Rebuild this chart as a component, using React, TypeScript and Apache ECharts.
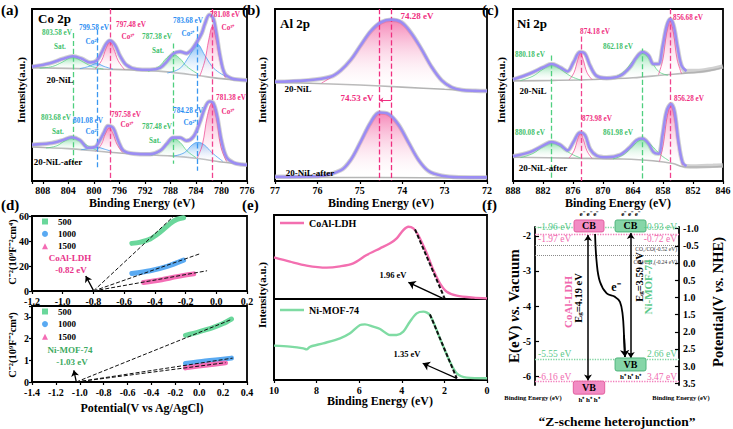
import React, { useEffect, useRef } from "react";
import * as echarts from "echarts";

const FONT = '"Liberation Serif", "Times New Roman", serif';
const PURPLE = "#9b8df3";
const RAW = "#c6c6c6";
const BGLINE = "#b3b3b3";

// ---------------- (a) Co 2p  (intensity on a 0-100 scale) ----------------
const aUpperRaw = [[809.7,66.4],[806.9,68.4],[804.8,71.1],[803.3,72.5],[801.9,71.1],[800.6,68.9],[799.6,69.9],[798.8,74.6],[798.1,79.7],[797.5,81.6],[796.7,79.1],[795.9,72.7],[794.9,67.4],[793.3,65.0],[791.2,64.7],[789.6,65.8],[788.6,69.3],[787.6,73.8],[786.5,75.2],[785.5,74.2],[784.7,76.2],[783.9,80.5],[783.1,85.9],[782.6,91.4],[781.9,96.7],[781.3,94.7],[780.8,85.9],[780.2,72.3],[779.5,62.5],[778.4,59.6],[777.1,58.9],[776,58.6]];
const aUpperBg = [[809.7,65.8],[804,65.5],[798,65.0],[792,64.3],[788,63.3],[784,61.5],[780,59.5],[776,58.4]];
const aUpperSat1 = [[808.5,65.6],[806.5,66.6],[805,69],[803.3,72],[801.6,69],[800.2,66.4],[798.5,65.1]];
const aUpperCo2a = [[802.2,65.3],[800.8,66.6],[799.6,68.3],[798.4,66.6],[797,65.0]];
const aUpperCo3a = [[799.8,65.1],[798.8,70],[798.1,77],[797.5,81],[796.9,77],[796.2,70],[795.2,64.8]];
const aUpperSat2 = [[791.5,63.8],[789.8,66.5],[788.6,71.5],[787.6,73.6],[786.6,71.5],[785.4,66.5],[783.8,62.5]];
const aUpperCo2b = [[788.5,62.8],[786.5,65.5],[785,73],[783.8,79.5],[782.6,73],[781.2,65.5],[779.2,60.5]];
const aUpperCo3b = [[783.4,61],[782.6,70],[782,82],[781.4,90],[780.8,82],[780.2,70],[779.4,60]];

const aLowerRaw = [[809.7,21.1],[806.9,21.9],[804.8,23.8],[803.5,25.4],[802.2,23.8],[800.9,19.3],[799.8,19.8],[799.1,23.4],[798.4,28.3],[797.8,32.0],[797.0,30.9],[796.2,23.4],[795.4,17.8],[793.8,15.9],[791.2,15.6],[789.6,17.6],[788.6,21.5],[787.6,25.2],[786.5,25.2],[785.5,23.4],[784.4,25.8],[783.4,34.0],[782.6,42.5],[781.9,46.2],[781.3,45.4],[780.7,38.0],[780.0,23.4],[779.2,13.7],[778.1,10.6],[776.8,9.6],[776,9.4]];
const aLowerBg = [[809.7,19.8],[804,18.8],[800,17.6],[796,16.3],[792,15.3],[788,14.6],[784,13.2],[780,11.0],[776,9.3]];
const aLowerSat1 = [[807.5,19.2],[805.8,20.5],[804.5,23.5],[803.4,25],[802.2,23.5],[801,20.5],[799.5,17.8]];
const aLowerCo2a = [[802,18.2],[800.8,18.9],[799.6,19.8],[798.4,18.6],[797.2,17.2]];
const aLowerCo3a = [[799.7,17.3],[798.8,21.5],[798.2,27.5],[797.6,31],[797,27.5],[796.4,21.5],[795.5,16.6]];
const aLowerSat2 = [[791,15.0],[789.5,17.5],[788.4,22.5],[787.5,24.6],[786.5,22.5],[785.4,17.5],[784,13.6]];
const aLowerCo2b = [[787.5,14.5],[785.8,16.5],[784.6,21],[783.7,22.5],[782.7,21],[781.5,16.5],[779.8,11.5]];
const aLowerCo3b = [[783.8,13.4],[783,21],[782.2,38],[781.5,45.2],[780.8,37],[780.1,20],[779.2,11.3]];

const aPeakKinds = ["sat", "co2", "co3", "sat", "co2", "co3"];
const aDashX = [803.3, 799.5, 797.5, 787.6, 783.8, 781.4];
const aDashTop = [86, 88, 100, 80, 90, 100];
const aDashBottom = [9, 8, 0, 10, 6, 0];

// ---------------- (b) Al 2p ----------------
const bUpperRaw = [[77,57.7],[76.25,58.5],[75.69,60.6],[75.45,64.3],[75.21,70.5],[74.98,78.8],[74.74,87.1],[74.5,92.3],[74.26,93.8],[74.02,92.3],[73.79,86.1],[73.55,76.8],[73.31,66.4],[73.07,58.5],[72.83,54.4],[72.6,52.9],[72.28,52.4],[72,52.3]];
const bUpperBg = [[77,57.3],[76,56.7],[75,55.8],[74,54.6],[73,53.3],[72,52.2]];
const bUpperPeak = [[75.9,57.0],[75.45,64],[75.21,70.3],[74.98,78.6],[74.74,86.9],[74.5,92.1],[74.26,93.6],[74.02,92.1],[73.79,85.9],[73.55,76.6],[73.31,66.2],[73.07,58.3],[72.85,54.3]];
const bLowerRaw = [[77,2.4],[76.0,2.8],[75.45,6.2],[75.21,12.4],[74.98,22.8],[74.74,34.2],[74.54,39.8],[74.33,39.0],[74.1,33.2],[73.86,22.8],[73.62,12.4],[73.38,5.8],[73.07,3.1],[72.67,2.2],[72,2.1]];
const bLowerBg = [[77,2.2],[74.5,2.0],[72,1.8]];
const bLowerPeak = [[76.0,2.3],[75.45,6.2],[75.21,12.4],[74.98,22.8],[74.74,34.2],[74.54,39.8],[74.33,39.0],[74.1,33.2],[73.86,22.8],[73.62,12.4],[73.38,5.8],[73.07,3.1],[72.67,2.2]];
const bDashX = [74.54, 74.26];
const bShift = [[74.26, 47], [74.54, 47]];

// ---------------- (c) Ni 2p ----------------
const cUpperRaw = [[888,59.0],[884.6,62.5],[881.9,66.1],[880.3,68.0],[878.6,66.1],[877.1,63.7],[875.9,69.0],[874.6,75.0],[873.6,74.0],[872.6,67.1],[871.3,61.1],[869.3,59.8],[866.6,61.1],[864.6,66.1],[863.3,71.9],[862.1,75.0],[860.9,73.0],[859.9,68.0],[858.9,68.0],[858.1,77.9],[857.3,89.7],[856.6,94.1],[855.9,90.7],[855.1,77.9],[854.3,67.1],[853.3,63.9],[851.3,63.9],[848,65.2],[846,66.6]];
const cUpperBg = [[888,58.2],[880,58.5],[872,59],[864,60],[858,61.6],[854,62.6],[851,63.3],[848,64.6],[846,66]];
const cUpperSat1 = [[886.5,58.4],[884,61],[882,65],[880.3,67.5],[878.5,65],[876.5,61],[874.5,58.7]];
const cUpperNi1 = [[876.8,58.7],[875.8,63],[875.1,70],[874.5,74.5],[873.9,70],[873.2,63],[872.2,59]];
const cUpperSat2 = [[868,59.8],[865.8,63.5],[863.8,70.5],[862.2,74.5],[860.6,70.5],[858.8,63.5],[857,61.5]];
const cUpperNi2 = [[858.9,61.8],[858,71],[857.3,86],[856.6,93.5],[855.9,86],[855.2,71],[854.3,62.5]];
const cLowerRaw = [[888,14.4],[884.6,16.8],[881.9,20.7],[880.3,22.7],[878.6,21.1],[877.1,17.8],[875.9,22.7],[874.6,28.2],[873.6,26.6],[872.6,18.7],[871.3,14.8],[869.3,13.8],[866.6,15.2],[864.6,19.7],[863.3,23.7],[862.1,24.7],[860.9,21.7],[859.9,16.8],[858.9,15.8],[858.1,26.6],[857.3,40.4],[856.4,44.8],[855.7,40.4],[854.9,22.7],[854.1,10.8],[853.3,8.6],[851.3,8.5],[848,8.8],[846,9.0]];
const cLowerBg = [[888,13.8],[876,13.3],[866,12.8],[860,11.8],[856,10.2],[854,8.3],[850,8.1],[846,8.6]];
const cLowerSat1 = [[886.5,13.6],[884,16],[882,20],[880.3,22.3],[878.5,20],[876.5,16],[874.5,13.4]];
const cLowerNi1 = [[876.8,13.3],[875.8,17.5],[875.1,24],[874.5,27.8],[873.9,24],[873.2,17.5],[872.2,13.2]];
const cLowerSat2 = [[868,12.8],[865.8,15.5],[863.8,21],[862.1,24.3],[860.4,21],[858.6,15.5],[856.8,11.8]];
const cLowerNi2 = [[858.7,11.4],[857.9,22],[857.2,37],[856.4,44.5],[855.7,37],[855,22],[854.1,9.2]];
const cPeakKinds = ["sat", "co3", "sat", "co3"];
const cDashX = [880.3, 874.4, 862.1, 856.6];
const cDashTop = [73, 84, 77, 100];
const cDashBottom = [1, 0, 0, 0];

// ---------------- (d) Mott-Schottky ----------------
const dTop500 = [[-0.55,38.1],[-0.5,38.9],[-0.43,41.6],[-0.365,47.1],[-0.3,54],[-0.256,57.3],[-0.213,58.6]];
const dTop1000 = [[-0.55,14],[-0.43,16.2],[-0.32,19.7],[-0.213,24.7]];
const dTop1500 = [[-0.474,6.8],[-0.365,8.8],[-0.256,11.5],[-0.147,13.7]];
const dTopFits = [[[-0.8,0],[-0.28,59.5]], [[-0.8,0],[-0.104,29.9]], [[-0.8,0],[-0.06,16.2]]];
const dTopArrow = [[-0.8, 0.5], [-0.85, 12]];
const dBot500 = [[-0.115,2.15],[-0.003,2.31],[0.108,2.49],[0.2,2.69],[0.27,2.9]];
const dBot1000 = [[-0.115,0.85],[0.05,0.97],[0.27,1.1]];
const dBot1500 = [[-0.115,0.65],[0.05,0.77],[0.22,0.88]];
const dBotFits = [[[-1.03,0],[0.27,2.88]], [[-1.03,0],[0.28,1.1]], [[-1.03,0],[0.22,0.89]]];
const dBotArrow = [[-1.03, 0.03], [-1.05, 0.54]];
const dLegendNames = ["500", "1000", "1500"];

// ---------------- (e) VB-XPS ----------------
const eCoAl = [[10,49.5],[9.25,44.4],[8.47,39.7],[7.53,37.3],[6.9,38.9],[6.28,42.5],[5.65,52.4],[5.02,60.3],[4.55,66.3],[4.24,72.2],[3.93,82.1],[3.69,86.1],[3.46,84.1],[3.23,76.2],[2.83,54.4],[2.52,34.5],[2.21,18.7],[1.89,8.7],[1.42,4],[0.64,1.6],[0,0.8]];
const eNiMOF = [[10,42.5],[9.25,41.2],[8.62,39.1],[8.47,37.8],[8.31,41.0],[7.69,45.3],[6.9,51.4],[6.43,57.6],[5.96,67.9],[5.73,68.7],[5.34,65.8],[5.02,63],[4.55,55.6],[4.24,55.6],[3.93,59.7],[3.62,72],[3.3,82.3],[2.99,84.4],[2.68,80.2],[2.21,51.4],[1.74,22.6],[1.42,8.2],[0.95,2.9],[0,2.1]];
const eCoAlFit = [[3.38,82.9],[1.99,0.8]];
const eNiFit = [[2.68,81],[1.42,2]];
const eCoAlArrow = [[2.05,0.5],[3.69,19.8]];
const eNiArrow = [[1.42,2],[3.02,20.6]];

// ---------------- (f) band scheme ----------------
const fLeftTicks = [-6, -5, -4, -3, -2];
const fRightTicks = [-1, -0.5, 0, 0.5, 1, 1.5, 2, 2.5, 3, 3.5];
// [x0, x1, top, bottom, material(0 CoAl-LDH, 1 Ni-MOF-74), band(0 CB, 1 VB)]
const fBoxes = [
  [27.1, 47.9, -1.55, -1.89, 0, 0],
  [55.6, 77.1, -1.55, -1.89, 1, 0],
  [26.6, 48.4, -6.14, -6.51, 0, 1],
  [55.6, 77.1, -5.48, -5.85, 1, 1],
];
const fCarriers = ["e\u207B e\u207B e\u207B", "h\u207A h\u207A h\u207A"];
const fLevels = [-1.75, -1.95, -5.51, -6.14];
const fLevelMaterial = [1, 0, 1, 0];
const fLevelLeft = ["-1.96 eV", "-1.97 eV", "-5.55 eV", "-6.16 eV"];
const fLevelRight = ["-0.93 eV", "-0.72 eV", "2.66 eV", "3.47 eV"];
const fRedox = [-0.52, -0.24];
const fRedoxLabels = ["CO\u2082/CO(-0.52 eV)", "CO\u2082/CH\u2084(-0.24 eV)"];
const fEgArrows = [[36.8, -1.98, -6.12], [66.5, -1.92, -5.48]];
const fElectron = [[41.7,-1.95],[42.8,-2.74],[45.1,-3.31],[49.8,-3.64],[55.6,-3.74],[59.0,-3.88],[60.9,-4.26],[61.8,-4.83],[62.5,-5.45]];

// ---------------- helpers ----------------
const KIND_COLOR: any = { sat: "#4fcf7f", co2: "#3a97f0", co3: "#f0438f" };
const rgba = (hex: string, a: number) => {
  const n = parseInt(hex.slice(1), 16);
  return `rgba(${n >> 16},${(n >> 8) & 255},${n & 255},${a})`;
};
const grad = (hex: string, a0: number, a1: number) =>
  new echarts.graphic.LinearGradient(0, 0, 0, 1, [
    { offset: 0, color: rgba(hex, a0) },
    { offset: 1, color: `rgba(255,255,255,${a1})` },
  ]);
const fmt = (step: number, dec: number) => (v: number) => {
  const r = v / step;
  if (Math.abs(r - Math.round(r)) > 1e-5) return "";
  const val = Math.abs(v) < 1e-9 ? 0 : Math.round(r) * step;
  return (Math.abs(val) < 1e-9 ? 0 : val).toFixed(dec);
};

function line(xi: number, yi: number, data: any, color: string, width: number, z: number, extra: any = {}) {
  return {
    type: "line", xAxisIndex: xi, yAxisIndex: yi, data, symbol: "none", smooth: 0.35, silent: true, z,
    itemStyle: { color }, color, lineStyle: { color, width, ...(extra.ls || {}) }, ...extra.rest,
  };
}
function peak(gi: number, pts: number[][], color: string, a0 = 0.92) {
  const base = Math.min(pts[0][1], pts[pts.length - 1][1]);
  return {
    type: "line", xAxisIndex: gi, yAxisIndex: gi, data: pts, symbol: "none", smooth: 0.4, silent: true, z: 3,
    lineStyle: { color, width: 0.8, opacity: 0.9 },
    areaStyle: { origin: base, color: grad(color, a0, 0.12) },
  };
}
function spectrum(gi: number, raw: any, env: any, bg: any, peaks: any[], colors: string[]) {
  const s: any[] = [];
  s.push(line(gi, gi, raw, RAW, 4.5, 1, { ls: { opacity: 0.8 } }));
  s.push(line(gi, gi, bg, BGLINE, 1.6, 2));
  peaks.forEach((p, i) => s.push(peak(gi, p, colors[i])));
  s.push(line(gi, gi, env, PURPLE, 2.6, 5));
  return s;
}
function vDashes(gi: number, xs: number[], tops: number[], bots: number[], colors: string[]) {
  return {
    type: "line", xAxisIndex: gi, yAxisIndex: gi, data: [[xs[0], tops[0]]], symbol: "none", silent: true, z: 6,
    lineStyle: { opacity: 0 },
    markLine: {
      silent: true, symbol: "none", label: { show: false }, animation: false,
      data: xs.map((x, i) => [
        { coord: [x, tops[i]], lineStyle: { color: colors[i], type: "dashed", width: 1.3 } },
        { coord: [x, bots[i]] },
      ]),
    },
  };
}
function segs(xi: number, yi: number, pairs: number[][][], color: string, width: number, z = 8) {
  return {
    type: "line", xAxisIndex: xi, yAxisIndex: yi, data: [pairs[0][0]], symbol: "none", silent: true, z,
    lineStyle: { opacity: 0 },
    markLine: {
      silent: true, symbol: "none", label: { show: false }, animation: false,
      lineStyle: { color, width, type: "solid" },
      data: pairs.map((p) => [{ coord: p[0] }, { coord: p[1] }]),
    },
  };
}
function arrowLine(xi: number, yi: number, pts: number[][], color: string, width: number, both = false, size = 6) {
  return {
    type: "line", xAxisIndex: xi, yAxisIndex: yi, data: [pts[0]], symbol: "none", silent: true, z: 8,
    lineStyle: { opacity: 0 },
    markLine: {
      silent: true, symbol: both ? ["arrow", "arrow"] : ["none", "arrow"], symbolSize: size,
      label: { show: false }, animation: false,
      lineStyle: { color, width, type: "solid" },
      data: [[{ coord: pts[0] }, { coord: pts[1] }]],
    },
  };
}

const axisLineStyle = { show: true, onZero: false, lineStyle: { color: "#000", width: 1.8 } };
function vAxis(gi: number, min: number, max: number, interval: number, dec: number, o: any = {}) {
  return {
    type: "value", gridIndex: gi, min, max, interval, inverse: !!o.inverse, position: o.position,
    axisLine: axisLineStyle,
    axisTick: { show: o.ticks !== false, length: 3, inside: !!o.tickInside, lineStyle: { color: "#000", width: 1.2 } },
    splitLine: { show: false },
    axisLabel: {
      show: o.labels !== false, color: "#000", fontFamily: FONT, fontWeight: "bold",
      fontSize: o.fs || 10, margin: o.margin ?? 4, formatter: fmt(o.labelStep || interval, dec),
    },
  };
}
function blankY(gi: number, min = 0, max = 100) {
  return {
    type: "value", gridIndex: gi, min, max, axisLine: axisLineStyle, axisTick: { show: false },
    axisLabel: { show: false }, splitLine: { show: false },
  };
}
function T(text: string, x: number, y: number, fill: string, size: number, o: any = {}) {
  const align = o.align || "center";
  return {
    type: "text", x, y, rotation: o.rot || 0, z: 100, silent: true,
    style: {
      text, fill, font: `${o.weight || "bold"} ${size}px ${FONT}`,
      textAlign: align, align, textVerticalAlign: "middle", verticalAlign: "middle", rich: o.rich,
    },
  };
}
const R = Math.PI / 2;
const richTok = (size: number, fill: string, extra: any = {}) => ({ fontSize: size, fontFamily: FONT, fontWeight: "bold", fill, color: fill, ...extra });

const APINK = "#ef2e80";
const AGREEN = "#3fbf6c";
const ABLUE = "#2c8ef2";
const FPINK = "#f06bb0";
const FGREEN = "#5cc98a";

function buildOption() {
  const grids = [
    { left: 32, top: 9, width: 215, height: 172 },
    { left: 275, top: 9, width: 212, height: 172 },
    { left: 513, top: 9, width: 210, height: 172 },
    { left: 32, top: 216, width: 215, height: 75 },
    { left: 32, top: 306, width: 215, height: 76 },
    { left: 274, top: 215, width: 213, height: 84 },
    { left: 274, top: 299, width: 213, height: 81 },
    { left: 535, top: 227, width: 144, height: 158 },
  ].map((g, i) => ({
    ...g, show: i !== 7, borderColor: "#000", borderWidth: 1.8, backgroundColor: "transparent",
    containLabel: false, outerBoundsMode: "none",
  }));

  const xAxis: any[] = [
    vAxis(0, 776, 809.7, 4, 0, { inverse: true, margin: 4 }),
    vAxis(1, 72, 77, 1, 0, { inverse: true, margin: 4 }),
    vAxis(2, 846, 888, 6, 0, { inverse: true, margin: 4 }),
    vAxis(3, -1.2, 0.2, 0.2, 1, { margin: 5 }),
    vAxis(4, -1.4, 0.4, 0.2, 1, { margin: 5 }),
    vAxis(5, 0, 10, 2, 0, { inverse: true, labels: false, ticks: false }),
    vAxis(6, 0, 10, 2, 0, { inverse: true, margin: 5 }),
    { type: "value", gridIndex: 7, min: 0, max: 100, show: false },
  ];
  const yAxis: any[] = [
    blankY(0), blankY(1), blankY(2),
    vAxis(3, 0, 60, 20, 0, { margin: 3 }),
    vAxis(4, 0, 3.5, 1, 0, { margin: 3 }),
    blankY(5), blankY(6),
    // f: left axis (vs. vacuum); ticks every 0.25 from min, labels only on whole eV
    vAxis(7, -6.25, -1.75, 0.25, 0, { position: "left", ticks: false, labelStep: 1, margin: 4 }),
    // f: right axis (vs. NHE); ticks every 0.05 from min, labels only on multiples of 0.5
    { ...vAxis(7, -1.05, 3.55, 0.05, 1, { position: "right", inverse: true, ticks: false, labelStep: 0.5, margin: 4 }) },
  ];

  const series: any[] = [];
  const aColors = aPeakKinds.map((k) => KIND_COLOR[k]);
  series.push(...spectrum(0, aUpperRaw, aUpperRaw, aUpperBg, [aUpperSat1, aUpperCo2a, aUpperCo3a, aUpperSat2, aUpperCo2b, aUpperCo3b], aColors));
  series.push(...spectrum(0, aLowerRaw, aLowerRaw, aLowerBg, [aLowerSat1, aLowerCo2a, aLowerCo3a, aLowerSat2, aLowerCo2b, aLowerCo3b], aColors));
  series.push(vDashes(0, aDashX, aDashTop, aDashBottom, aColors));

  series.push(...spectrum(1, bUpperRaw, bUpperRaw, bUpperBg, [bUpperPeak], [KIND_COLOR.co3]));
  series.push(...spectrum(1, bLowerRaw, bLowerRaw, bLowerBg, [bLowerPeak], [KIND_COLOR.co3]));
  series.push(vDashes(1, bDashX, [100, 100], [0, 0], [APINK, APINK]));
  series.push(arrowLine(1, 1, bShift, APINK, 1, false, 4));

  const cColors = cPeakKinds.map((k) => KIND_COLOR[k]);
  const cUpperEnv = cUpperRaw.filter((p) => p[0] >= 853);
  const cLowerEnv = cLowerRaw.filter((p) => p[0] >= 853);
  series.push(...spectrum(2, cUpperRaw, cUpperEnv, cUpperBg, [cUpperSat1, cUpperNi1, cUpperSat2, cUpperNi2], cColors));
  series.push(...spectrum(2, cLowerRaw, cLowerEnv, cLowerBg, [cLowerSat1, cLowerNi1, cLowerSat2, cLowerNi2], cColors));
  series.push(vDashes(2, cDashX, cDashTop, cDashBottom, cColors));

  const DCOL = ["#6ad79b", "#5aaaf2", "#f46db5"];
  const msOpts = { ls: { cap: "round" }, rest: { smooth: 0.3 } };
  [dTop500, dTop1000, dTop1500].forEach((d, i) => series.push({ ...line(3, 3, d, DCOL[i], 5, 3, msOpts), name: dLegendNames[i] }));
  dTopFits.forEach((f) => series.push(line(3, 3, f, "#111", 1, 4, { ls: { type: [4, 2] }, rest: { smooth: false } })));
  series.push(arrowLine(3, 3, dTopArrow, "#000", 1.3, false, 6));
  [dBot500, dBot1000, dBot1500].forEach((d, i) => series.push({ ...line(4, 4, d, DCOL[i], 5, 3, msOpts), name: dLegendNames[i] }));
  dBotFits.forEach((f) => series.push(line(4, 4, f, "#111", 1, 4, { ls: { type: [4, 2] }, rest: { smooth: false } })));
  series.push(arrowLine(4, 4, dBotArrow, "#000", 1.3, false, 6));

  const EP = "#f36fb0", EG = "#7fdba3";
  series.push({ ...line(5, 5, eCoAl, EP, 2.4, 3, { rest: { smooth: 0.3 } }), name: "CoAl-LDH" });
  series.push(line(5, 5, eCoAlFit, "#111", 2, 4, { ls: { type: [4, 2] }, rest: { smooth: false } }));
  series.push(arrowLine(5, 5, eCoAlArrow, "#000", 1.5, false, 7));
  series.push({ ...line(6, 6, eNiMOF, EG, 2.4, 3, { rest: { smooth: 0.3 } }), name: "Ni-MOF-74" });
  series.push(line(6, 6, eNiFit, "#111", 2, 4, { ls: { type: [4, 2] }, rest: { smooth: false } }));
  series.push(arrowLine(6, 6, eNiArrow, "#000", 1.2, false, 7));

  // (f) inward ticks on both axes
  series.push(segs(7, 7, fLeftTicks.map((v) => [[0, v], [2.8, v]]), "#000", 1.2));
  series.push(segs(7, 8, fRightTicks.map((v) => [[97.2, v], [100, v]]), "#000", 1.2));
  series.push({
    type: "line", xAxisIndex: 7, yAxisIndex: 7, data: [[50, -4]], symbol: "none", silent: true, lineStyle: { opacity: 0 }, z: 2,
    markLine: {
      silent: true, symbol: "none", label: { show: false }, animation: false,
      data: fLevels.map((v, i) => ({ yAxis: v, lineStyle: { color: fLevelMaterial[i] ? "#7fd4a0" : "#f27dbb", type: "dotted", width: 1.3 } })),
    },
  });
  series.push({
    type: "line", xAxisIndex: 7, yAxisIndex: 8, data: [[50, 1]], symbol: "none", silent: true, lineStyle: { opacity: 0 }, z: 2,
    markLine: {
      silent: true, symbol: "none", label: { show: false }, animation: false,
      data: fRedox.map((v) => ({ yAxis: v, lineStyle: { color: "#8a8a8a", type: "dotted", width: 1 } })),
    },
  });
  series.push({
    type: "custom", xAxisIndex: 7, yAxisIndex: 7, data: fBoxes, clip: false, silent: true, z: 5,
    encode: { x: [0, 1], y: [2, 3] },
    renderItem: (params: any, api: any) => {
      const p0 = api.coord([api.value(0), api.value(2)]);
      const p1 = api.coord([api.value(1), api.value(3)]);
      const m = api.value(4), k = api.value(5);
      const cx = (p0[0] + p1[0]) / 2;
      const ty = k ? p1[1] + 6 : p0[1] - 6;
      return {
        type: "group",
        children: [
          { type: "rect", shape: { x: p0[0], y: p0[1], width: p1[0] - p0[0], height: p1[1] - p0[1], r: 2 },
            style: { fill: m ? "#86d6a8" : "#f28cc4", stroke: m ? "#4fb57c" : "#e3609f", lineWidth: 1 } },
          { type: "text", x: cx, y: (p0[1] + p1[1]) / 2,
            style: { text: k ? "VB" : "CB", fill: "#000", font: `bold 10px ${FONT}`, align: "center", verticalAlign: "middle", textAlign: "center", textVerticalAlign: "middle" } },
          { type: "text", x: cx, y: ty,
            style: { text: fCarriers[k], fill: "#000", font: `bold 7px ${FONT}`, align: "center", verticalAlign: "middle", textAlign: "center", textVerticalAlign: "middle" } },
        ],
      };
    },
  });
  fEgArrows.forEach((a) => series.push(arrowLine(7, 7, [[a[0], a[1]], [a[0], a[2]]], "#000", 1.5, true, 6)));
  series.push(line(7, 7, fElectron, "#000", 1.8, 6, { rest: { smooth: 0.4 } }));
  series.push(arrowLine(7, 7, [fElectron[fElectron.length - 2], fElectron[fElectron.length - 1]], "#000", 1.8, false, 7));

  const legText = { fontFamily: FONT, fontWeight: "bold", fontSize: 9, color: "#000", lineHeight: 10, padding: [0, 0, 0, 5] };
  const dLegData = dLegendNames.map((n, i) => ({ name: n, icon: ["rect", "circle", "triangle"][i] }));
  const legend = [
    { left: 42, top: 216.5, padding: 0, orient: "vertical", itemWidth: 6, itemHeight: 6, itemGap: 2.4, selectedMode: false, textStyle: legText, data: dLegData },
    { left: 42, top: 306.5, padding: 0, orient: "vertical", itemWidth: 6, itemHeight: 6, itemGap: 2.6, selectedMode: false, textStyle: legText, data: dLegData },
    { left: 280, top: 217, padding: 0, itemWidth: 24, itemHeight: 2.5, selectedMode: false,
      textStyle: { ...legText, fontSize: 10, lineHeight: 12, padding: [0, 0, 0, 0] }, data: [{ name: "CoAl-LDH", icon: "rect" }] },
    { left: 280, top: 304, padding: 0, itemWidth: 24, itemHeight: 2.5, selectedMode: false,
      textStyle: { ...legText, fontSize: 10, lineHeight: 12, padding: [0, 0, 0, 0] }, data: [{ name: "Ni-MOF-74", icon: "rect" }] },
  ];

  const sm = 7.2;
  const els: any[] = [
    // panel letters
    T("(a)", 1, 10, "#000", 15, { align: "left" }),
    T("(b)", 242, 10, "#000", 15, { align: "left" }),
    T("(c)", 482, 10, "#000", 15, { align: "left" }),
    T("(d)", 1, 205, "#000", 15, { align: "left" }),
    T("(e)", 242, 205, "#000", 15, { align: "left" }),
    T("(f)", 482, 205, "#000", 15, { align: "left" }),
    // axis titles
    T("Binding Energy (eV)", 142, 203, "#000", 12),
    T("Binding Energy (eV)", 381, 203, "#000", 12),
    T("Binding Energy (eV)", 618, 203, "#000", 12),
    T("Intensity(a.u.)", 21, 90, "#000", 11, { rot: R }),
    T("Intensity(a.u.)", 262, 90, "#000", 11, { rot: R }),
    T("Intensity(a.u.)", 501, 90, "#000", 11, { rot: R }),
    T("C\u207B\u00B2(10\u2079F\u207B\u00B2cm\u2074)", 12, 252, "#000", 10.5, { rot: R }),
    T("C\u207B\u00B2(10\u2079F\u207B\u00B2cm\u2074)", 12, 345, "#000", 10.5, { rot: R }),
    T("Potential(V vs Ag/AgCl)", 142, 408, "#000", 12),
    T("Intensity(a.u.)", 262, 295, "#000", 11, { rot: R }),
    T("Binding Energy (eV)", 380, 401, "#000", 12),
    // (a)
    T("Co 2p", 38, 18, "#000", 13, { align: "left" }),
    T("803.58 eV", 57, 33, AGREEN, sm), T("Sat.", 60, 47, AGREEN, sm),
    T("799.58 eV", 94, 28, ABLUE, sm), T("Co\u00B2\u207A", 92, 42, ABLUE, sm),
    T("797.48 eV", 131, 25, APINK, sm), T("Co\u00B3\u207A", 128, 37, APINK, sm),
    T("787.38 eV", 157, 37, AGREEN, sm), T("Sat.", 158, 51, AGREEN, sm),
    T("783.68 eV", 188, 21, ABLUE, sm), T("Co\u00B2\u207A", 188, 34, ABLUE, sm),
    T("781.08 eV", 225, 15, APINK, sm), T("Co\u00B3\u207A", 228, 28, APINK, sm),
    T("20-NiL", 60, 80, "#000", 9),
    T("803.68 eV", 56, 118, AGREEN, sm), T("Sat.", 58, 132, AGREEN, sm),
    T("801.08 eV", 88, 121, ABLUE, sm), T("Co\u00B2\u207A", 92, 132, ABLUE, sm),
    T("797.58 eV", 126, 115, APINK, sm), T("Co\u00B3\u207A", 127, 125, APINK, sm),
    T("787.48 eV", 157, 127, AGREEN, sm), T("Sat.", 155, 141, AGREEN, sm),
    T("784.28 eV", 188, 111, ABLUE, sm), T("Co\u00B2\u207A", 190, 123, ABLUE, sm),
    T("781.38 eV", 231, 98, APINK, sm), T("Co\u00B3\u207A", 228, 112, APINK, sm),
    T("20-NiL-after", 58, 162, "#000", 9),
    // (b)
    T("Al 2p", 280, 23, "#000", 13, { align: "left" }),
    T("74.28 eV", 417, 16, APINK, 9),
    T("74.53 eV", 357, 98, APINK, 9),
    T("20-NiL", 298, 89, "#000", 9),
    T("20-NiL-after", 310, 173, "#000", 9),
    // (c)
    T("Ni 2p", 517, 23, "#000", 13, { align: "left" }),
    T("880.18 eV", 530, 55, AGREEN, sm),
    T("874.18 eV", 595, 32, APINK, sm),
    T("862.18 eV", 618, 47, AGREEN, sm),
    T("856.68 eV", 688, 18, APINK, sm),
    T("20-NiL", 533, 91, "#000", 9),
    T("880.08 eV", 530, 133, AGREEN, sm),
    T("873.98 eV", 597, 119, APINK, sm),
    T("861.98 eV", 618, 133, AGREEN, sm),
    T("856.28 eV", 689, 99, APINK, sm),
    T("20-NiL-after", 543, 168, "#000", 9),
    // (d)
    T("CoAl-LDH", 70, 258, "#e8338a", 9),
    T("-0.82 eV", 71, 270, "#e8338a", 9),
    T("Ni-MOF-74", 70, 350, "#3daa62", 9),
    T("-1.03 eV", 72, 362, "#3daa62", 9),
    // (e)
    T("1.96 eV", 393, 275, "#000", 8.5),
    T("1.35 eV", 407, 354, "#000", 8.5),
    // (f)
    T("e\u207B", 616, 287, "#000", 12),
    ...fLevelLeft.map((s, i) => T(s, 538, [227, 239, 354, 377][i], fLevelMaterial[i] ? FGREEN : FPINK, 9.5, { align: "left", weight: "normal" })),
    ...fLevelRight.map((s, i) => T(s, 677, [227, 239, 354, 377][i], fLevelMaterial[i] ? FGREEN : FPINK, 9.5, { align: "right", weight: "normal" })),
    T(fRedoxLabels[0], 677, 249, "#333", 5.5, { align: "right", weight: "normal" }),
    T(fRedoxLabels[1], 677, 262, "#333", 5.5, { align: "right", weight: "normal" }),
    T("CoAl-LDH", 568, 302, FPINK, 11, { rot: R }),
    T("{b|E}{s|g}{b|=4.19 eV}", 578, 298, "#000", 10.5, { rot: R, rich: { b: richTok(10.5, "#000"), s: richTok(7, "#000", { verticalAlign: "bottom" }) } }),
    T("{b|E}{s|g}{b|=3.59 eV}", 639, 277, "#000", 10.5, { rot: R, rich: { b: richTok(10.5, "#000"), s: richTok(7, "#000", { verticalAlign: "bottom" }) } }),
    T("Ni-MOF-74", 648, 287, FGREEN, 11, { rot: R }),
    T("{b|E(eV) }{i|vs.}{b| Vacuum}", 514, 306, "#000", 15, { rot: R, rich: { b: richTok(15, "#000"), i: richTok(15, "#000", { fontStyle: "italic" }) } }),
    T("{b|Potential(V }{i|vs.}{b| NHE)}", 718, 302, "#000", 14.5, { rot: R, rich: { b: richTok(14.5, "#000"), i: richTok(14.5, "#000", { fontStyle: "italic" }) } }),
    T("Binding Energy (eV)", 533, 397, "#000", 6.5),
    T("Binding Energy (eV)", 681, 397, "#000", 6.5),
    T("\u201CZ-scheme heterojunction\u201D", 617, 421, "#000", 13.5),
  ];

  return {
    animation: false,
    backgroundColor: "#fff",
    textStyle: { fontFamily: FONT },
    grid: grids,
    xAxis,
    yAxis,
    legend,
    series,
    graphic: { elements: els },
  };
}

export default function App() {
  const ref = useRef<HTMLDivElement>(null);
  useEffect(() => {
    const chart = echarts.init(ref.current as HTMLDivElement, null, { renderer: "svg" });
    chart.setOption(buildOption() as any);
    return () => chart.dispose();
  }, []);
  return (
    <div
      ref={ref}
      style={{ position: "absolute", left: 0, top: 0, width: 733, height: 429, background: "#fff" }}
    />
  );
}
